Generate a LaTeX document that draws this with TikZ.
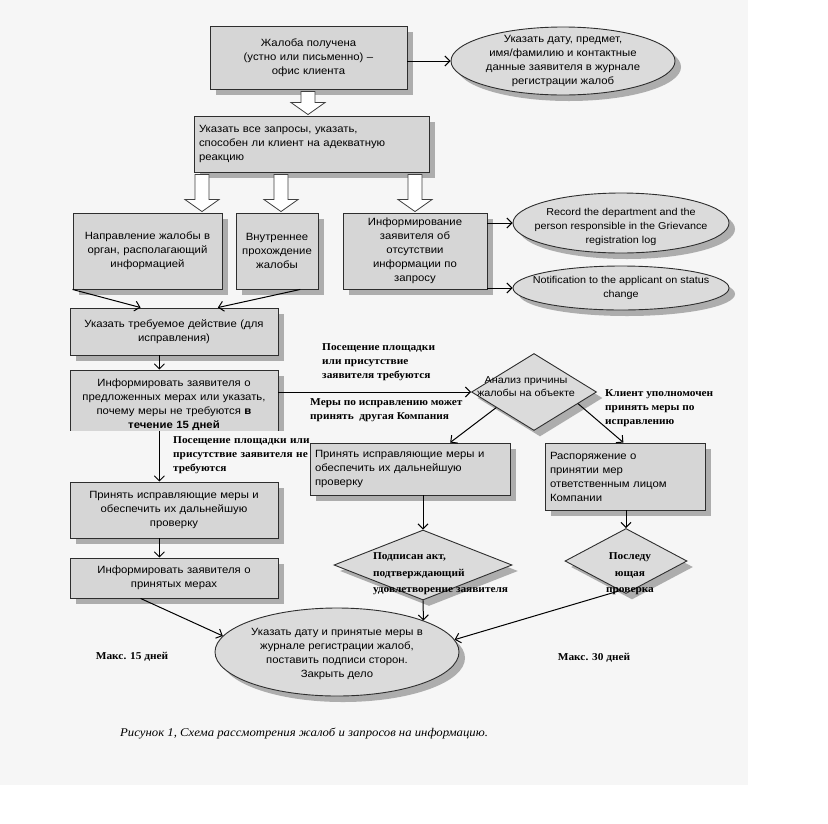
\documentclass[tikz,border=0pt]{standalone}
\usepackage{fontspec}
\setmainfont[FakeStretch=1.08]{Liberation Serif}
\setsansfont[FakeStretch=1.08]{Liberation Sans}
\usetikzlibrary{shapes.geometric,shadows,arrows.meta,calc}
\definecolor{boxfill}{gray}{0.84}
\definecolor{efill}{gray}{0.86}
\definecolor{shad}{gray}{0.68}
\definecolor{edge}{gray}{0.18}
\definecolor{page}{gray}{0.965}
% zero-size centred text block: #1 double x-shift, #2 raise, #3 text
\newcommand\zc[3]{\makebox[0pt]{\hspace*{#1}\smash{\raisebox{#2}{\begin{tabular}{@{}c@{}}#3\end{tabular}}}}}
% zero-size left-aligned text block: #1 left edge, #2 raise, #3 text
\newcommand\zl[3]{\makebox[0pt][l]{\hspace*{#1}\smash{\raisebox{#2}{\begin{tabular}{@{}l@{}}#3\end{tabular}}}}}
% hollow block arrow: #1 x, #2 upper anchor, #3 lower anchor
\newcommand\harrow[3]{\draw[hollow] let \p1=#2, \p2=#3 in
  ({#1pt-7pt},{\y1-2pt}) -- ({#1pt-7pt},{\y2+13pt}) -- ({#1pt-17pt},{\y2+13pt}) --
  ({#1pt},{\y2+1pt}) -- ({#1pt+17pt},{\y2+13pt}) -- ({#1pt+7pt},{\y2+13pt}) --
  ({#1pt+7pt},{\y1-2pt}) -- cycle;}
\tikzset{
  shd/.style={drop shadow={shadow xshift=6pt,shadow yshift=-6pt,fill=shad,opacity=1}},
  sans/.style={font=\sffamily\fontsize{10.5}{14}\selectfont},
  bx/.style={rectangle,draw=edge,line width=0.9pt,fill=boxfill,sans,inner xsep=5pt,inner ysep=3pt,shd},
  ell/.style={ellipse,draw=edge,line width=0.9pt,fill=efill,inner sep=0pt,sans,shd},
  dia/.style={diamond,draw=edge,line width=0.9pt,fill=efill,inner sep=0pt,sans,shd},
  lbl/.style={font=\rmfamily\bfseries\fontsize{10.5}{14}\selectfont,align=left,inner sep=0pt},
  dtxt/.style={font=\rmfamily\bfseries\fontsize{10.5}{16.5}\selectfont},
  conn/.style={draw=black,line width=1pt,-{Straight Barb[length=5pt,width=10pt]}},
  hollow/.style={draw=black!75,line width=0.8pt,fill=white},
}
\begin{document}
\begin{tikzpicture}[x=1pt,y=-1pt]
\useasboundingbox (0,0) rectangle (828,823);
\fill[white] (0,0) rectangle (828,823);
\fill[page] (0,0) rectangle (748,785);

% top row
\node[bx,minimum width=197pt,minimum height=63pt,text width=187pt,align=center] (b1) at (308.5,57.5)
  {Жалоба получена\\(устно или письменно) –\\офис клиента};
\node[ell,minimum width=224pt,minimum height=68pt] (e1) at (563,61)
  {\zc{0pt}{-2.6pt}{Указать дату, предмет,\\имя/фамилию и контактные\\данные заявителя в журнале\\регистрации жалоб}};

\node[bx,minimum width=235pt,minimum height=56pt,text width=225pt,align=left] (b2) at (311.5,144)
  {Указать все запросы, указать,\\способен ли клиент на адекватную\\реакцию};

% third row
\node[bx,minimum width=149pt,minimum height=76pt,text width=139pt,align=center] (b3a) at (147.5,251)
  {Направление жалобы в\\орган, располагающий\\информацией};
\node[bx,minimum width=82pt,minimum height=76pt,text width=72pt,align=center] (b3b) at (277,251)
  {Внутреннее\\прохождение\\жалобы};
\node[bx,minimum width=144pt,minimum height=76pt,text width=134pt,align=center] (b3c) at (415,251)
  {Информирование\\заявителя об\\отсутствии\\информации по\\запросу};

\node[ell,font=\sffamily\fontsize{10}{14}\selectfont,minimum width=216pt,minimum height=60pt] (e2) at (621,223)
  {\zc{0pt}{-6pt}{Record the department and the\\person responsible in the Grievance\\registration log}};
\node[ell,font=\sffamily\fontsize{10}{14}\selectfont,minimum width=216pt,minimum height=44pt] (e3) at (621,288)
  {\zc{0pt}{-2.6pt}{Notification to the applicant on status\\change}};

% left column
\node[bx,minimum width=208pt,minimum height=47pt,text width=198pt,align=center] (b4) at (174,331.5)
  {Указать требуемое действие (для\\исправления)};
\node[bx,minimum width=208pt,minimum height=70pt,text width=198pt,align=center] (b5) at (174,405)
  {Информировать заявителя о\\предложенных мерах или указать,\\почему меры не требуются \textbf{в}\\\textbf{течение 15 дней}};

\node[lbl,fill=page,anchor=north west,text width=258pt,inner ysep=3pt,minimum height=47pt] (l3) at (66,431)
  {\hspace*{107pt}Посещение площадки или\\\hspace*{107pt}присутствие заявителя не\\\hspace*{107pt}требуются};

\node[bx,minimum width=208pt,minimum height=56pt,text width=198pt,align=center] (b8) at (174,510)
  {Принять исправляющие меры и\\обеспечить их дальнейшую\\проверку};
\node[bx,minimum width=208pt,minimum height=40pt,text width=198pt,align=center] (b9) at (174,578)
  {Информировать заявителя о\\принятых мерах};

% right part
\node[dia,font=\sffamily\fontsize{10}{13}\selectfont,minimum width=125pt,minimum height=77pt] (d1) at (534,392)
  {\zc{-16pt}{2.4pt}{Анализ причины\\жалобы на объекте}};

\node[bx,minimum width=200pt,minimum height=52pt,text width=190pt,align=left] (b6) at (410,469)
  {Принять исправляющие меры и\\обеспечить их дальнейшую\\проверку};
\node[bx,minimum width=160pt,minimum height=67pt,text width=150pt,align=left] (b7) at (625,476.5)
  {Распоряжение о\\принятии мер\\ответственным лицом\\Компании};

\node[dia,dtxt,minimum width=178pt,minimum height=70pt] (d2) at (423,565)
  {\zl{-50pt}{-10.6pt}{Подписан акт,\\подтверждающий\\удовлетворение заявителя}};
\node[dia,dtxt,minimum width=122pt,minimum height=65pt] (d3) at (626,561)
  {\zc{8pt}{-14.6pt}{Последу\\ющая\\проверка}};

\node[ell,minimum width=244pt,minimum height=88pt] (ef) at (337,652)
  {\zc{0pt}{-4pt}{Указать дату и принятые меры в\\журнале регистрации жалоб,\\поставить подписи сторон.\\Закрыть дело}};

% labels
\node[lbl,anchor=north west] (l1) at (322,343) {Посещение площадки\\или присутствие\\заявителя требуются};
\node[lbl,anchor=north west] (l2) at (310,398) {Меры по исправлению может\\принять\ \ другая Компания};
\node[lbl,anchor=north west] (l4) at (605,389) {Клиент уполномочен\\принять меры по\\исправлению};
\node[lbl] (m15) at (132,657) {Макс. 15 дней};
\node[lbl] (m30) at (594,658) {Макс. 30 дней};
\node[font=\rmfamily\itshape\fontsize{11.8}{14}\selectfont,anchor=west,inner sep=0pt] (cap) at (120,734)
  {Рисунок 1, Схема рассмотрения жалоб и запросов на информацию.};

% hollow block arrows
\harrow{308}{(b1.south)}{(b2.north)}
\harrow{202}{(b2.south)}{(b3a.north)}
\harrow{281}{(b2.south)}{(b3b.north)}
\harrow{415}{(b2.south)}{(b3c.north)}

% connectors
\draw[conn] (b1.east |- e1.west) -- (e1.west);
\draw[conn] (b3c.east |- e2.west) -- (e2.west);
\draw[conn] (b3c.east |- e3.west) -- (e3.west);
\draw[conn] (b3a.south west) -- ($(b4.north west)!0.34!(b4.north east)$);
\draw[conn] ($(b3b.south west)!0.78!(b3b.south east)$) -- ($(b4.north west)!0.71!(b4.north east)$);
\draw[conn] ($(b4.south west)!0.43!(b4.south east)$) -- ($(b5.north west)!0.43!(b5.north east)$);
\draw[conn] (b5.east |- d1.west) -- (d1.west);
\draw[conn] ($(d1.west)!0.4!(d1.south)$) -- ($(b6.north west)!0.7!(b6.north east)$);
\draw[conn] ($(d1.east)!0.3!(d1.south)$) -- ($(b7.north west)!0.49!(b7.north east)$);
\draw[conn] ($(b5.south west)!0.43!(b5.south east)+(0,-9)$) -- ($(b8.north west)!0.43!(b8.north east)$);
\draw[conn] ($(b8.south west)!0.43!(b8.south east)$) -- ($(b9.north west)!0.43!(b9.north east)$);
\draw[conn] (b6.south -| d2.north) -- (d2.north);
\draw[conn] (b7.south -| d3.north) -- (d3.north);
\draw[conn] ($(b9.south west)!0.34!(b9.south east)$) -- (ef.172);
\draw[conn] (d2.south) -- (ef.20);
\draw[conn] ($(d3.west)!0.9!(d3.south)$) -- (ef.6);
\end{tikzpicture}
\end{document}
